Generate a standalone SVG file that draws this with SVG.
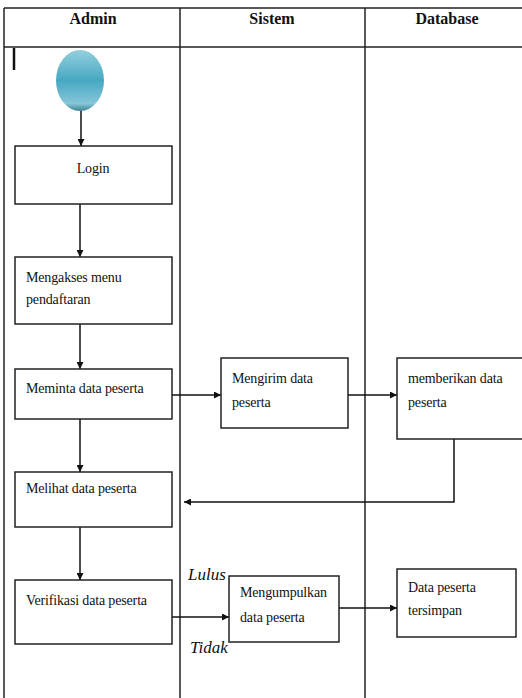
<svg xmlns="http://www.w3.org/2000/svg" width="522" height="698" viewBox="0 0 522 698">
<style>
.lane{fill:none;stroke:#222;stroke-width:1.5}
.box{fill:#fff;stroke:#222;stroke-width:1.5}
.hdr{font-family:"Liberation Serif","Times New Roman",serif;font-size:16px;font-weight:bold;fill:#111;text-anchor:middle}
.t{font-family:"Liberation Serif","Times New Roman",serif;font-size:14px;fill:#111;letter-spacing:-0.15px}
.lbl{font-family:"Liberation Serif","Times New Roman",serif;font-size:17px;font-style:italic;fill:#111}
.c{fill:none;stroke:#111;stroke-width:1.5}
</style>
<defs>
<marker id="ah" viewBox="0 0 10 10" refX="10" refY="5" markerWidth="7" markerHeight="7" orient="auto" markerUnits="userSpaceOnUse">
<path d="M0,0 L10,5 L0,10 z" fill="#111"/>
</marker>
<linearGradient id="g" x1="0" y1="0" x2="0" y2="1">
<stop offset="0" stop-color="#94cfdf"/>
<stop offset="0.5" stop-color="#46a8c2"/>
<stop offset="0.88" stop-color="#86c6d8"/>
<stop offset="1" stop-color="#3d7f90"/>
</linearGradient>
</defs>
<g id="swimlanes">
<line class="lane" x1="4" y1="8" x2="522" y2="8"/>
<line class="lane" x1="4" y1="47" x2="522" y2="47"/>
<line class="lane" x1="4" y1="8" x2="4" y2="698"/>
<line class="lane" x1="180" y1="8" x2="180" y2="698"/>
<line class="lane" x1="365" y1="8" x2="365" y2="698"/>
<text class="hdr" x="93" y="24">Admin</text>
<text class="hdr" x="272" y="24">Sistem</text>
<text class="hdr" x="447" y="24">Database</text>
<line x1="14" y1="48" x2="14" y2="70" stroke="#111" stroke-width="2.5"/>
</g>
<g id="connectors">
<line class="c" x1="81" y1="111" x2="81" y2="146" marker-end="url(#ah)"/>
<line class="c" x1="80" y1="204" x2="80" y2="257" marker-end="url(#ah)"/>
<line class="c" x1="80" y1="324" x2="80" y2="369" marker-end="url(#ah)"/>
<line class="c" x1="172" y1="395" x2="221" y2="395" marker-end="url(#ah)"/>
<line class="c" x1="348" y1="395" x2="397" y2="395" marker-end="url(#ah)"/>
<polyline class="c" points="454,439 454,502 184,502" marker-end="url(#ah)"/>
<line class="c" x1="80" y1="419" x2="80" y2="472" marker-end="url(#ah)"/>
<line class="c" x1="80" y1="527" x2="80" y2="580" marker-end="url(#ah)"/>
<line class="c" x1="172" y1="617" x2="229" y2="617" marker-end="url(#ah)"/>
<line class="c" x1="339" y1="608" x2="397" y2="608" stroke="#444" stroke-width="2" marker-end="url(#ah)"/>
<text class="lbl" x="188" y="580">Lulus</text>
<text class="lbl" x="190" y="653">Tidak</text>
</g>
<g id="start">
<ellipse cx="80" cy="80.5" rx="24" ry="30.5" fill="url(#g)"/>
</g>
<g id="login">
<rect class="box" x="15" y="146" width="157" height="58"/>
<text class="t" x="93" y="173" text-anchor="middle">Login</text>
</g>
<g id="mengakses">
<rect class="box" x="15" y="257" width="157" height="67"/>
<text class="t" x="26" y="282">Mengakses menu</text>
<text class="t" x="26" y="304">pendaftaran</text>
</g>
<g id="meminta">
<rect class="box" x="15" y="369" width="157" height="50"/>
<text class="t" x="26" y="393">Meminta data peserta</text>
</g>
<g id="mengirim">
<rect class="box" x="221" y="358" width="127" height="70"/>
<text class="t" x="232" y="383">Mengirim data</text>
<text class="t" x="232" y="407">peserta</text>
</g>
<g id="memberikan">
<rect class="box" x="397" y="358" width="130" height="81"/>
<text class="t" x="408" y="383">memberikan data</text>
<text class="t" x="408" y="407">peserta</text>
</g>
<g id="melihat">
<rect class="box" x="15" y="472" width="157" height="55"/>
<text class="t" x="26" y="493">Melihat data peserta</text>
</g>
<g id="verifikasi">
<rect class="box" x="15" y="580" width="157" height="64"/>
<text class="t" x="26" y="605">Verifikasi data peserta</text>
</g>
<g id="mengumpulkan">
<rect class="box" x="229" y="576" width="110" height="66"/>
<text class="t" x="240" y="597">Mengumpulkan</text>
<text class="t" x="240" y="622">data peserta</text>
</g>
<g id="tersimpan">
<rect class="box" x="397" y="569" width="119" height="68"/>
<text class="t" x="408" y="592">Data peserta</text>
<text class="t" x="408" y="615">tersimpan</text>
</g>
</svg>
